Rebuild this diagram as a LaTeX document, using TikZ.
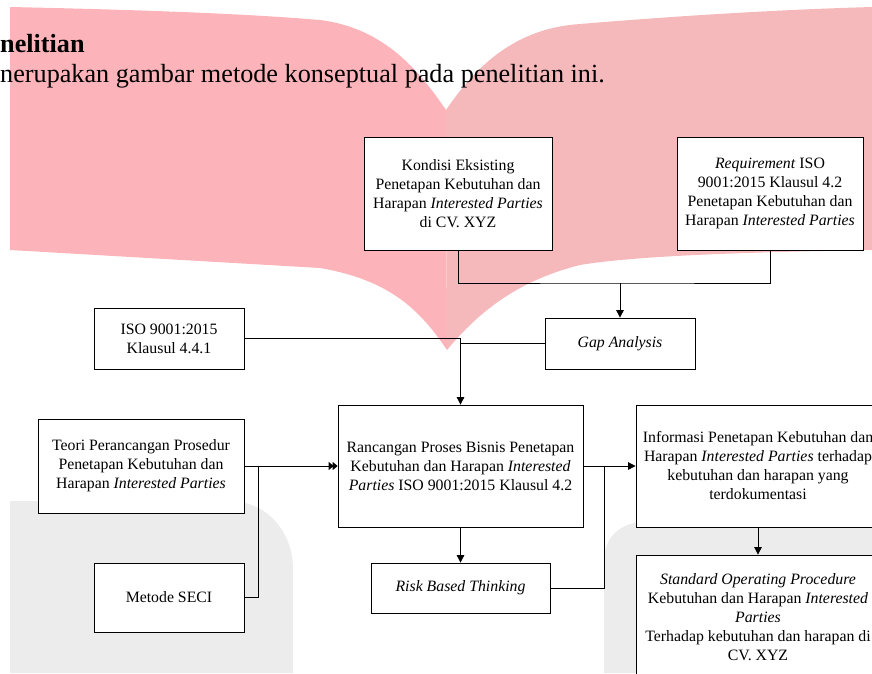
\documentclass[tikz,border=0pt]{standalone}
\usepackage{fontspec}
\setmainfont{Liberation Serif}
\usetikzlibrary{arrows.meta}
\definecolor{pinkL}{HTML}{FCB4BA}
\definecolor{pinkR}{HTML}{F5B9BC}
\definecolor{wmgray}{HTML}{ECECEC}
\tikzset{
  box/.style={draw=black, fill=white, line width=0.8pt, align=center, inner sep=0pt,
    font=\fontsize{15.8}{19}\selectfont},
  conn/.style={draw=black, line width=0.8pt},
  arr/.style={conn, -{Triangle[length=7.5pt,width=7.5pt]}},
  darr/.style={conn, -{Triangle[length=5pt,width=8pt,sep=-1pt]Triangle[length=5pt,width=8pt]}},
  titletext/.style={anchor=base west, inner sep=0pt, font=\fontsize{26.2}{30}\selectfont}
}
\begin{document}
\begin{tikzpicture}[x=1pt,y=-1pt]
\useasboundingbox (0,0) rectangle (872,673);
% watermark background
\fill[pinkL] (10,7) .. controls (150,10) and (250,14) .. (320,20)
  .. controls (385,28) and (420,72) .. (446,110) -- (447,350)
  .. controls (420,310) and (390,280) .. (320,268) -- (10,250) -- cycle;
\fill[pinkR] (446,110) .. controls (480,60) and (520,28) .. (580,24)
  .. controls (700,14) and (800,9) .. (872,7) -- (872,250)
  .. controls (760,252) and (640,255) .. (580,265)
  .. controls (520,280) and (480,310) .. (447,350) -- cycle;
\fill[wmgray] (10,673) -- (10,501) -- (230,501)
  .. controls (265,501) and (293,530) .. (293,569) -- (293,673) -- cycle;
\fill[wmgray] (604,673) -- (604,560) .. controls (604,538) and (620,522) .. (645,522)
  -- (872,522) -- (872,673) -- cycle;
% title text
\node[titletext] (t1) at (0,52) {\bfseries nelitian};
\node[titletext] (t2) at (0,82) {nerupakan gambar metode konseptual pada penelitian ini.};
% boxes
\node[box, minimum width=188pt, minimum height=113pt] (kond) at (458,193.5)
  {Kondisi Eksisting\\Penetapan Kebutuhan dan\\Harapan \textit{Interested Parties}\\di CV. XYZ};
\node[box, minimum width=186pt, minimum height=113pt] (req) at (770,193.5)
  {\textit{Requirement} ISO\\9001:2015 Klausul 4.2\\Penetapan Kebutuhan dan\\Harapan \textit{Interested Parties}};
\node[box, minimum width=150pt, minimum height=51pt] (gap) at (620,343.5)
  {\textit{Gap Analysis}};
\node[box, minimum width=150pt, minimum height=61pt] (iso) at (169,338.5)
  {ISO 9001:2015\\Klausul 4.4.1};
\node[box, minimum width=206pt, minimum height=94pt] (teori) at (141,466)
  {Teori Perancangan Prosedur\\Penetapan Kebutuhan dan\\Harapan \textit{Interested Parties}};
\node[box, minimum width=150pt, minimum height=69pt] (seci) at (169,597.5)
  {Metode SECI};
\node[box, minimum width=245pt, minimum height=122pt] (ranc) at (460.5,466)
  {Rancangan Proses Bisnis Penetapan\\Kebutuhan dan Harapan \textit{Interested}\\\textit{Parties} ISO 9001:2015 Klausul 4.2};
\node[box, minimum width=179pt, minimum height=50pt] (rbt) at (460.5,588)
  {\textit{Risk Based Thinking}};
\node[box, minimum width=244pt, minimum height=122pt] (info) at (758,466)
  {Informasi Penetapan Kebutuhan dan\\Harapan \textit{Interested Parties} terhadap\\kebutuhan dan harapan yang\\terdokumentasi};
\node[box, minimum width=244pt, minimum height=124pt] (sop) at (758,617)
  {\textit{Standard Operating Procedure}\\Kebutuhan dan Harapan \textit{Interested}\\\textit{Parties}\\Terhadap kebutuhan dan harapan di\\CV. XYZ};
% junction coordinates
\coordinate (j1) at (620,283);
\coordinate (j2) at (258,466);
\coordinate (j3) at (604,466);
% connectors
\draw[conn] (kond.south) |- (j1) -| (req.south);
\draw[arr] (j1) -- (gap.north);
\draw[arr] (iso.east) -| (ranc.north);
\draw[conn] (gap.west) -- (gap.west -| ranc.north);
\draw[darr] (teori.east) -- (ranc.west);
\draw[conn] (seci.east) -| (j2);
\draw[arr] (ranc.south) -- (rbt.north);
\draw[arr] (ranc.east) -- (info.west);
\draw[conn] (rbt.east) -| (j3);
\draw[arr] (info.south) -- (sop.north);
\end{tikzpicture}
\end{document}
